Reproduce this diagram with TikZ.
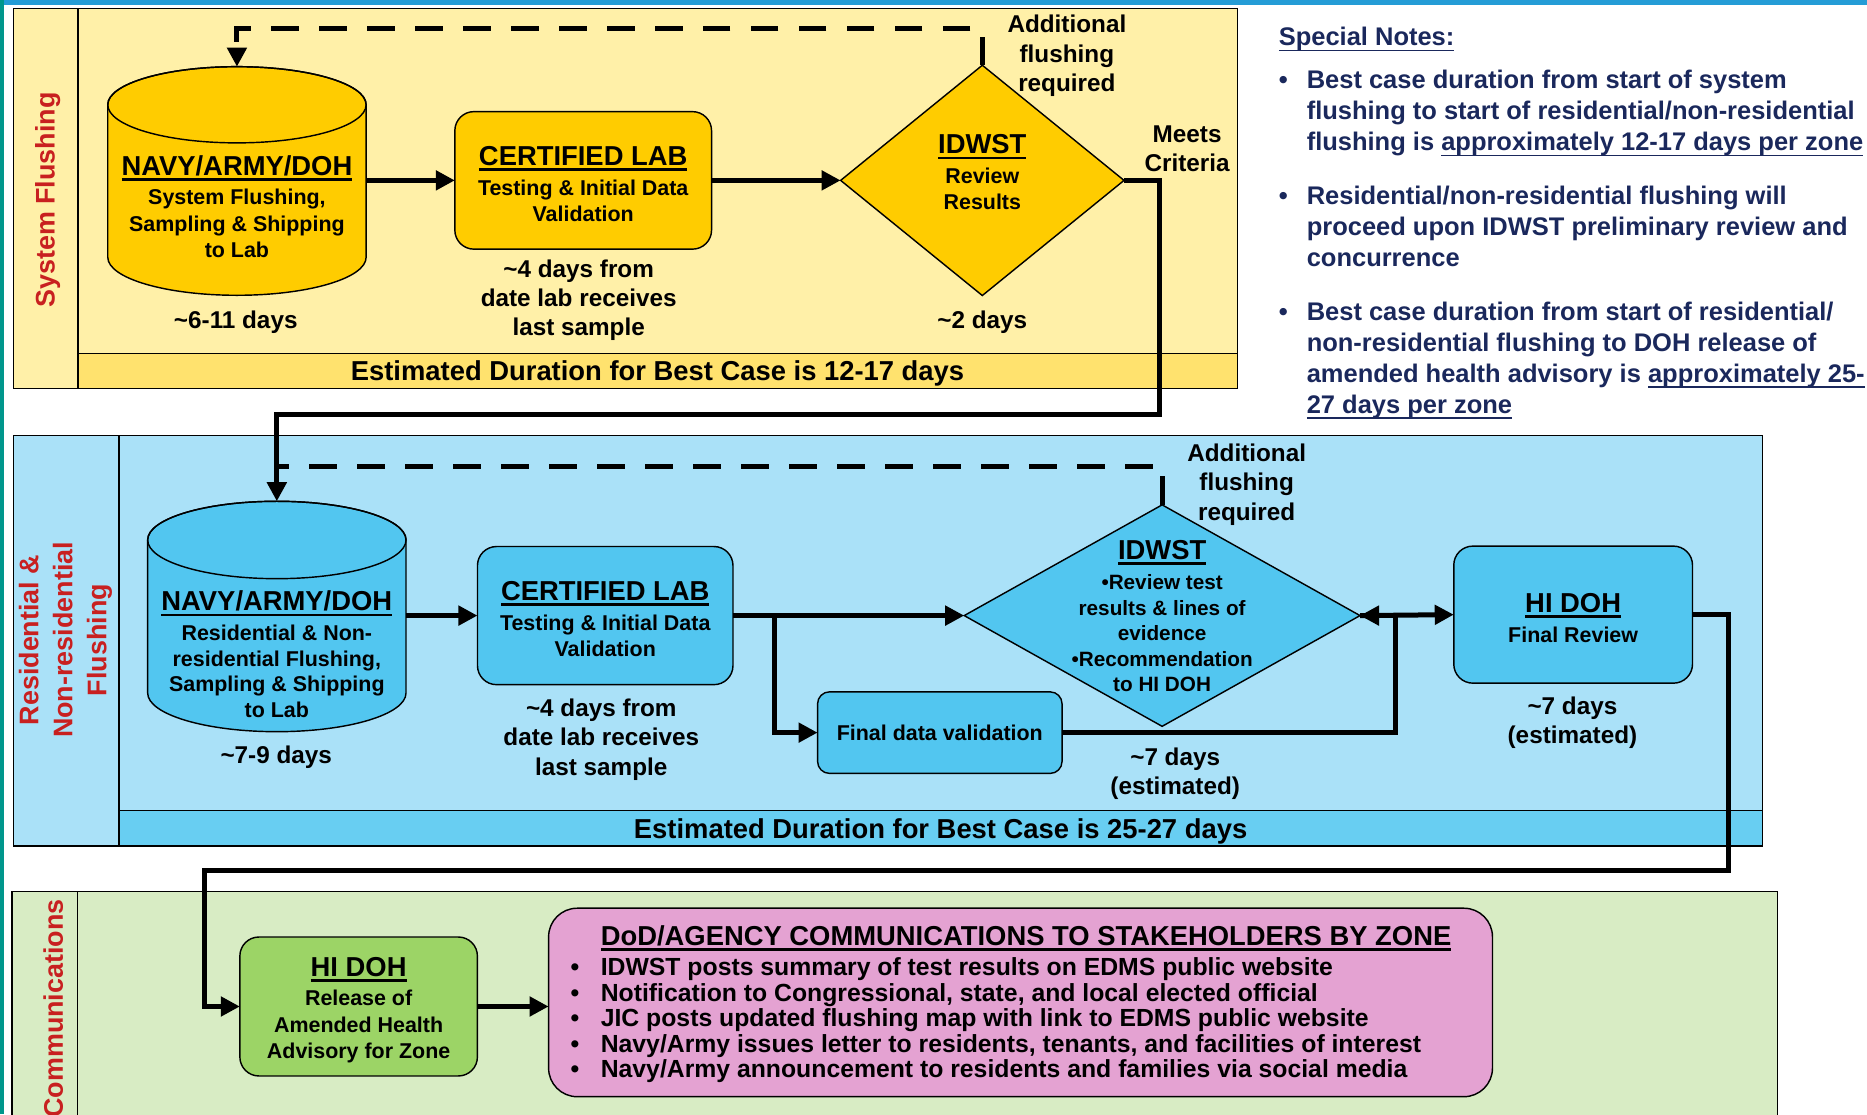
\documentclass[tikz,border=0pt]{standalone}
\usepackage{fontspec}
\setmainfont{Liberation Sans}
\usetikzlibrary{arrows.meta}
\usetikzlibrary{shapes.geometric}

\definecolor{sfback}{RGB}{255,240,168}
\definecolor{sfstrip}{RGB}{255,226,110}
\definecolor{sffill}{RGB}{255,204,0}
\definecolor{rfback}{RGB}{170,225,248}
\definecolor{rfstrip}{RGB}{104,206,242}
\definecolor{rffill}{RGB}{82,198,240}
\definecolor{cmback}{RGB}{216,236,196}
\definecolor{cmfill}{RGB}{156,212,102}
\definecolor{cmpink}{RGB}{228,162,210}
\definecolor{lanered}{RGB}{200,32,32}
\definecolor{notenavy}{RGB}{26,40,92}
\definecolor{topblue}{RGB}{36,156,214}
\definecolor{edgeteal}{RGB}{0,150,140}

\newsavebox{\undlbox}
\newcommand{\undl}[2][1.1pt]{\sbox{\undlbox}{#2}\rlap{\rule[-2.3pt]{\wd\undlbox}{#1}}\usebox{\undlbox}}
\newcommand{\boxhead}[1]{{\fontsize{11.5}{11}\selectfont\rule{0pt}{10.9pt}\undl{#1}}}

\begin{document}
\begin{tikzpicture}[x=0.5pt, y=-0.5pt,
  every node/.style={inner sep=0pt, outer sep=0pt, font=\bfseries},
  lanebox/.style={draw=black, line width=0.5pt},
  cylline/.style={draw=black, line width=0.6pt},
  lanelabel/.style={rotate=90, text=lanered, align=center, font=\fontsize{11.3}{14.25}\selectfont\bfseries},
  stripbar/.style={draw=black, line width=0.5pt, text depth=0pt, font=\fontsize{11.5}{13}\selectfont\bfseries},
  boxtext/.style={align=center, font=\fontsize{9}{11}\selectfont\bfseries},
  flowbox/.style={boxtext, draw=black, line width=0.6pt, rounded corners=8pt},
  flowdmd/.style={diamond, draw=black, line width=0.6pt},
  durtext/.style={align=center, font=\fontsize{10.2}{12.3}\selectfont\bfseries},
  connline/.style={line width=2.1pt, -{Triangle[length=8pt,width=8pt]}},
  stubline/.style={line width=2.1pt},
  dashline/.style={line width=2.1pt, dash pattern=on 11.5pt off 8.65pt}]
\useasboundingbox (0,0) rectangle (1568,936);
\clip (0,0) rectangle (1568,936);
\fill[topblue] (0,0) rectangle (1568,4.5);
\fill[edgeteal] (0,0) rectangle (3,936);

% system flushing lane
\filldraw[lanebox, fill=sfback] (11,7) rectangle (1039,326);
\draw[lanebox] (65.5,7) -- (65.5,326);
\node[lanelabel] (sflabel) at (40,168) {System Flushing};
\node[stripbar, fill=sfstrip, minimum width=486.75pt, minimum height=14.5pt] (sfbest) at (552.25,311.5) {Estimated Duration for Best Case is 12-17 days};

\filldraw[cylline, fill=sffill] (90.5,88) -- (90.5,216) arc[start angle=180, end angle=360, x radius=54.25pt, y radius=16pt] -- (307.5,88) arc[start angle=0, end angle=180, x radius=54.25pt, y radius=16pt] -- cycle;
\draw[cylline] (199,88) ellipse [x radius=54.25pt, y radius=16pt];
\node[boxtext] (nav1) at (199,170.8) {\boxhead{NAVY/ARMY/DOH}\\[1.5pt] System Flushing,\\ Sampling \& Shipping\\ to Lab};
\node[flowbox, fill=sffill, minimum width=107.8pt, minimum height=57.75pt] (lab1) at (489.8,151.5) {\boxhead{CERTIFIED LAB}\\[1.5pt] Testing \& Initial Data\\ Validation};
\node[flowdmd, fill=sffill, minimum width=119pt, minimum height=96.7pt, label={[boxtext, yshift=4.75pt]center:{\boxhead{IDWST}\\[1.5pt] Review\\ Results}}] (idwst1) at (825,151.5) {};

\node[durtext] (days1) at (198,271) {\textasciitilde6-11 days};
\node[durtext] (days2) at (486,252) {\textasciitilde4 days from\\ date lab receives\\ last sample};
\node[durtext] (days3) at (825,271) {\textasciitilde2 days};
\node[durtext] (addl1) at (896,47) {Additional\\ flushing\\ required};
\node[durtext] (meets) at (997,125) {Meets\\ Criteria};

% special notes
\node[anchor=north west, text=notenavy, font=\fontsize{10.7}{13}\selectfont\bfseries] (notes) at (1074,20.3) {\begin{tabular}{@{}l@{\hspace{8pt}}l@{}}
\multicolumn{2}{@{}l@{}}{\undl[0.6pt]{Special Notes:}}\\[5.1pt]
\textbullet & Best case duration from start of system\\
 & flushing to start of residential/non-residential\\
 & flushing is \undl[0.6pt]{approximately 12-17 days per zone}\\[9.6pt]
\textbullet & Residential/non-residential flushing will\\
 & proceed upon IDWST preliminary review and\\
 & concurrence\\[9.6pt]
\textbullet & Best case duration from start of residential/\\
 & non-residential flushing to DOH release of\\
 & amended health advisory is \undl[0.6pt]{approximately 25-}\\
 & \undl[0.6pt]{27 days per zone}
\end{tabular}};

% residential lane
\filldraw[lanebox, fill=rfback] (11,366) rectangle (1480,710.5);
\draw[lanebox] (100,366) -- (100,710.5);
\node[lanelabel] (rflabel) at (55,537.5) {Residential \&\\ Non-residential\\ Flushing};
\node[stripbar, fill=rfstrip, minimum width=690pt, minimum height=14.75pt] (rfbest) at (790,695.75) {Estimated Duration for Best Case is 25-27 days};

\filldraw[cylline, fill=rffill] (124,453.5) -- (124,582) arc[start angle=180, end angle=360, x radius=54.25pt, y radius=16.25pt] -- (341,453.5) arc[start angle=0, end angle=180, x radius=54.25pt, y radius=16.25pt] -- cycle;
\draw[cylline] (232.5,453.5) ellipse [x radius=54.25pt, y radius=16.25pt];
\node[boxtext, font=\fontsize{9}{10.75}\selectfont\bfseries] (nav2) at (232.5,546.9) {\boxhead{NAVY/ARMY/DOH}\\[1.7pt] Residential \& Non-\\ residential Flushing,\\ Sampling \& Shipping\\ to Lab};
\node[flowbox, fill=rffill, minimum width=107.3pt, minimum height=58pt] (lab2) at (508.3,517) {\boxhead{CERTIFIED LAB}\\[1.5pt] Testing \& Initial Data\\ Validation};
\node[flowdmd, fill=rffill, minimum width=166.2pt, minimum height=93pt, label={[boxtext, yshift=1.25pt, font=\fontsize{8.7}{10.75}\selectfont\bfseries]center:{\boxhead{IDWST}\\[2pt] \textbullet Review test\\ results \& lines of\\ evidence\\ \textbullet Recommendation\\ to HI DOH}}] (idwst2) at (976,517) {};
\node[flowbox, fill=rffill, rounded corners=5pt, minimum width=102.65pt, minimum height=34.25pt] (fdv) at (789.3,615.3) {Final data validation};
\node[flowbox, fill=rffill, minimum width=100.25pt, minimum height=57.55pt] (hidoh) at (1321.2,516.2) {\boxhead{HI DOH}\\[1.5pt] Final Review};

\node[durtext] (days4) at (232,636) {\textasciitilde7-9 days};
\node[durtext] (days5) at (505,621.2) {\textasciitilde4 days from\\ date lab receives\\ last sample};
\node[durtext] (days6) at (987,650) {\textasciitilde7 days\\ (estimated)};
\node[durtext] (days7) at (1320.6,607) {\textasciitilde7 days\\ (estimated)};
\node[durtext] (addl2) at (1047,407) {Additional\\ flushing\\ required};

% communications lane
\filldraw[lanebox, fill=cmback] (10,749) rectangle (1493,960);
\draw[lanebox] (65,749) -- (65,960);
\node[lanelabel] (cmlabel) at (44.7,847) {Communications};
\node[flowbox, fill=cmfill, minimum width=99.75pt, minimum height=58.35pt] (hidoh2) at (301.2,845.3) {\boxhead{HI DOH}\\[1.5pt] Release of\\ Amended Health\\ Advisory for Zone};
\node[flowbox, fill=cmpink, rounded corners=12pt, minimum width=396.35pt, minimum height=79.15pt, font=\fontsize{10.4}{10.75}\selectfont\bfseries] (comms) at (857.1,841.9) {\begin{tabular}{@{}l@{\hspace{9pt}}l@{}}
 & \boxhead{DoD/AGENCY COMMUNICATIONS TO STAKEHOLDERS BY ZONE}\\[1.9pt]
\textbullet & IDWST posts summary of test results on EDMS public website\\
\textbullet & Notification to Congressional, state, and local elected official\\
\textbullet & JIC posts updated flushing map with link to EDMS public website\\
\textbullet & Navy/Army issues letter to residents, tenants, and facilities of interest\\
\textbullet & Navy/Army announcement to residents and families via social media
\end{tabular}\kern8pt};

% connectors
\coordinate (nav1top) at (199,56);
\coordinate (nav1right) at (307.5,151.5);
\coordinate (stub1) at (825,31);
\coordinate (dash1) at (815,24);
\coordinate (nav2top) at (232.5,421);
\coordinate (nav2right) at (341,517);
\coordinate (stub2) at (976,400);
\coordinate (dash2) at (968,392);
\coordinate (join2) at (232.5,392);

\draw[connline] (nav1right) -- (lab1.west);
\draw[connline] (lab1.east) -- (idwst1.west);
\draw[stubline] (idwst1.north) -- (stub1);
\draw[dashline, -{Triangle[length=8pt,width=8pt]}] (dash1) -| (nav1top);
\draw[connline] (idwst1.east) -| (974,348) -| (nav2top);

\draw[connline] (nav2right) -- (lab2.west);
\draw[connline] (lab2.east) -- (idwst2.west);
\draw[connline] (lab2.east) ++(35,0) |- (fdv.west);
\draw[connline] (fdv.east) -| (1172,517) -- (idwst2.east);
\draw[connline] (idwst2.east) -- (hidoh.west);
\draw[stubline] (idwst2.north) -- (stub2);
\draw[dashline] (dash2) -- (join2);
\draw[connline] (hidoh.east) -- ++(30.5,0) |- (172,731) |- (hidoh2.west);
\draw[connline] (hidoh2.east) -- (comms.west |- hidoh2.east);
\end{tikzpicture}
\end{document}
